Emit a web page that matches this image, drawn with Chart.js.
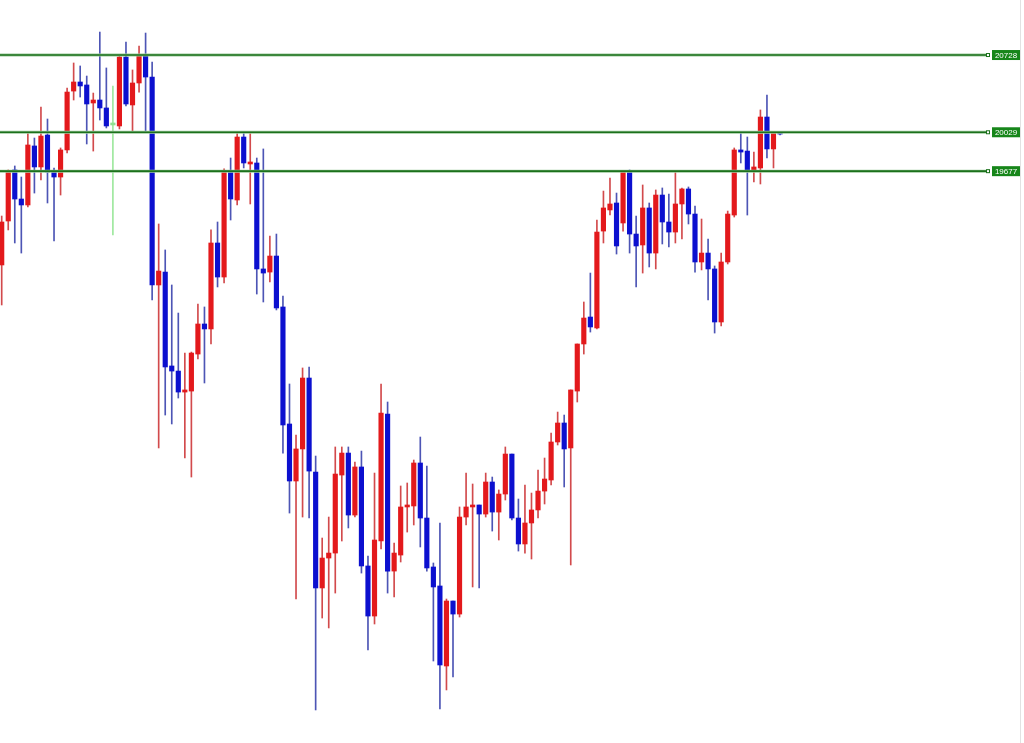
<!DOCTYPE html>
<html>
<head>
<meta charset="utf-8">
<script src="https://cdn.jsdelivr.net/npm/chart.js@4/dist/chart.umd.min.js"></script>
<style>
  html, body { margin: 0; padding: 0; background: #fff; }
  #wrap { width: 1024px; height: 743px; position: relative; }
</style>
</head>
<body>
<div id="wrap"><canvas id="chart"></canvas></div>
<script>
// candle values (oldest first)
const opens = [
  18828, 19226, 19688, 19425, 19371, 19905, 19715, 20004, 19669, 19624,
  19869, 20402, 20484, 20457, 20294, 20321, 20249, 20095, 20086, 20710,
  20276, 20475, 20719, 20529, 18647, 18764, 17914, 17868, 17678, 17687,
  18022, 18294, 18249, 19027, 18719, 19669, 19416, 19986, 19742, 19751,
  18792, 18764, 18909, 18448, 17389, 16873, 17163, 17805, 16954, 15905,
  16176, 16221, 16927, 17126, 16565, 17000, 16104, 15651, 16330, 17479,
  16058, 16203, 16638, 16647, 17036, 16538, 16095, 15923, 15199, 15787,
  15669, 16547, 16638, 16656, 16574, 16864, 16592, 16755, 17117, 16538,
  16303, 16493, 16611, 16782, 16882, 17226, 17398, 17172, 17687, 18113,
  18357, 18258, 19135, 19326, 19389, 19208, 19669, 19108, 19009, 19344,
  18936, 19461, 19217, 19126, 19380, 19516, 19289, 18855, 18936, 18792,
  18312, 18855, 19280, 19869, 19859, 19678, 19706, 20167, 19878, 20031
];
const highs = [
  19271, 19688, 19724, 19624, 20022, 19977, 20258, 20149, 19706, 19887,
  20430, 20656, 20629, 20538, 20384, 20936, 20611, 20448, 20728, 20846,
  20593, 20810, 20927, 20665, 19199, 18964, 18647, 18393, 18031, 18040,
  18475, 18448, 19145, 19217, 19697, 19796, 20022, 20022, 20022, 19796,
  19878, 19090, 19108, 18547, 17751, 17289, 17896, 17905, 17099, 16357,
  16547, 17181, 17181, 17181, 17045, 17144, 16194, 16945, 17751, 17588,
  16312, 16828, 16855, 17063, 17271, 17009, 16131, 16493, 15805, 15787,
  16638, 16945, 16846, 16656, 16945, 16909, 16792, 17181, 17117, 16710,
  16837, 16764, 16973, 17081, 17307, 17497, 17470, 17697, 18113, 18493,
  18755, 19235, 19497, 19615, 19479, 19678, 19688, 19271, 19552, 19389,
  19507, 19525, 19470, 19669, 19525, 19534, 19362, 19244, 19063, 18819,
  18936, 19316, 19887, 20022, 19986, 19850, 20231, 20366, 20031, 20031
];
const lows = [
  18466, 19145, 19027, 18936, 19353, 19479, 19597, 19389, 19045, 19461,
  19841, 20321, 20348, 19923, 19859, 20140, 20068, 19099, 20059, 20267,
  20031, 20393, 20031, 18511, 17172, 17470, 17389, 17624, 17081, 16909,
  17977, 17760, 18113, 18629, 18665, 19235, 19371, 19706, 19380, 18565,
  18493, 18674, 18421, 17126, 16583, 15805, 16547, 16538, 14801, 15633,
  15543, 15859, 16330, 16448, 16547, 16040, 15344, 15579, 16258, 15859,
  15823, 16140, 16411, 16475, 16276, 16058, 15244, 14810, 14982, 15099,
  15642, 16475, 15914, 15905, 16547, 16420, 16339, 16701, 16520, 16239,
  16221, 16167, 16538, 16665, 16837, 17199, 16819, 16113, 17588, 18022,
  18221, 18249, 19027, 19280, 18927, 19135, 18936, 18629, 18755, 18810,
  18792, 19018, 18991, 19027, 19063, 19199, 18764, 18783, 18511, 18212,
  18276, 18837, 19262, 19751, 19280, 19579, 19561, 19796, 19706, 20004
];
const closes = [
  19217, 19669, 19425, 19371, 19914, 19715, 19995, 19669, 19624, 19869,
  20393, 20484, 20448, 20285, 20321, 20249, 20086, 20095, 20710, 20285,
  20475, 20719, 20529, 18647, 18773, 17905, 17868, 17678, 17697, 18031,
  18294, 18249, 19027, 18719, 19678, 19425, 19986, 19751, 19751, 18792,
  18755, 18909, 18439, 17380, 16873, 17163, 17805, 16963, 15905, 16176,
  16221, 16936, 17126, 16565, 17000, 16104, 15651, 16339, 17488, 16058,
  16221, 16638, 16656, 17036, 16538, 16086, 15914, 15208, 15787, 15669,
  16547, 16638, 16656, 16574, 16864, 16592, 16755, 17117, 16538, 16303,
  16493, 16611, 16782, 16891, 17226, 17398, 17163, 17697, 18113, 18348,
  18267, 19126, 19344, 19380, 19000, 19669, 19108, 19000, 19344, 18936,
  19461, 19217, 19126, 19380, 19516, 19289, 18855, 18936, 18792, 18312,
  18855, 19289, 19869, 19850, 19678, 19715, 20167, 19878, 20031, 20013
];
// horizontal levels drawn across the chart
const levels = [20728, 20029, 19677];
// the thin light green bar (crosshair candle)
const crossIdx = 17;

const idx = opens.map((_, i) => i);

function bodyCol(i) {
  if (i === crossIdx) return '#8fe08f';
  return closes[i] >= opens[i] ? '#e3191c' : '#0c10cf';
}
function wickCol(i) {
  if (i === crossIdx) return '#9ee89e';
  return closes[i] >= opens[i] ? '#d24a4c' : '#4d55b5';
}

const levelPlugin = {
  id: 'levels',
  afterDatasetsDraw(chart) {
    const { ctx, chartArea, scales } = chart;
    const y = scales.y;
    const xEnd = chartArea.right - 38;
    ctx.save();
    // faint right border
    ctx.strokeStyle = '#e2e2e2';
    ctx.lineWidth = 1;
    ctx.beginPath();
    ctx.moveTo(chartArea.right - 3.5, chartArea.top);
    ctx.lineTo(chartArea.right - 3.5, chartArea.bottom);
    ctx.stroke();

    levels.forEach(v => {
      const py = y.getPixelForValue(v);
      ctx.strokeStyle = '#9cc99c';
      ctx.lineWidth = 3;
      ctx.beginPath();
      ctx.moveTo(chartArea.left, py);
      ctx.lineTo(xEnd, py);
      ctx.stroke();
      ctx.strokeStyle = '#1c711c';
      ctx.lineWidth = 1.6;
      ctx.beginPath();
      ctx.moveTo(chartArea.left, py);
      ctx.lineTo(xEnd, py);
      ctx.stroke();

      // little hollow square at the end
      ctx.fillStyle = '#fff';
      ctx.fillRect(xEnd, py - 2, 4, 4);
      ctx.strokeStyle = '#1c711c';
      ctx.lineWidth = 1;
      ctx.strokeRect(xEnd + 0.5, py - 1.5, 3, 3);

      // price tag
      ctx.fillStyle = '#17861a';
      ctx.fillRect(xEnd + 6, py - 5, 28, 10);
      ctx.fillStyle = '#fff';
      ctx.font = '8px "Liberation Sans", Arial, sans-serif';
      ctx.textAlign = 'center';
      ctx.textBaseline = 'middle';
      ctx.fillText(String(v), xEnd + 20, py + 0.5);
    });
    ctx.restore();
  }
};

const ctx = document.getElementById('chart').getContext('2d');
new Chart(ctx, {
  type: 'bar',
  data: {
    datasets: [
      {
        label: 'wick',
        data: idx.map(i => ({ x: i, y: [lows[i], highs[i]] })),
        backgroundColor: idx.map(wickCol),
        barThickness: 1,
        grouped: false,
        order: 2
      },
      {
        label: 'body',
        data: idx.map(i => ({ x: i, y: [opens[i], closes[i]] })),
        backgroundColor: idx.map(bodyCol),
        barThickness: 4.5,
        minBarLength: 2,
        grouped: false,
        order: 1
      }
    ]
  },
  options: {
    responsive: true,
    maintainAspectRatio: false,
    animation: false,
    layout: { padding: 0 },
    plugins: {
      legend: { display: false },
      tooltip: { enabled: false }
    },
    scales: {
      x: { type: 'linear', offset: false, min: -0.26, max: 156.3, display: false },
      y: { type: 'linear', min: 14502, max: 21226, display: false }
    }
  },
  plugins: [levelPlugin]
});
</script>
</body>
</html>
